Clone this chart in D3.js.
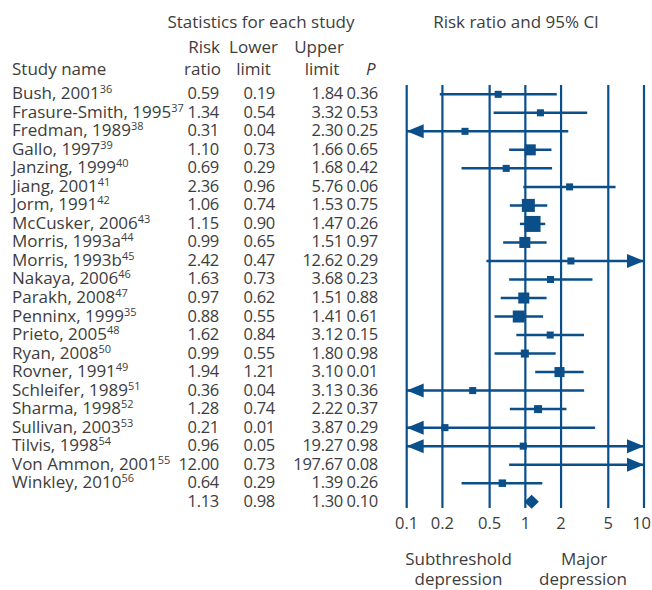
<!DOCTYPE html>
<meta charset="utf-8">
<title>Forest plot</title>
<style>
  body { margin: 0; background: white; }
  svg { font-family: "Open Sans", sans-serif; }
  text { fill: #3d3d3d; }
</style>
<body>
<div id="chart"></div>
<script src="https://d3js.org/d3.v7.min.js"></script>
<script>

// study data
var studies = ["Bush, 2001", "Frasure-Smith, 1995", "Fredman, 1989", "Gallo, 1997", "Janzing, 1999",
  "Jiang, 2001", "Jorm, 1991", "McCusker, 2006", "Morris, 1993a", "Morris, 1993b", "Nakaya, 2006",
  "Parakh, 2008", "Penninx, 1999", "Prieto, 2005", "Ryan, 2008", "Rovner, 1991", "Schleifer, 1989",
  "Sharma, 1998", "Sullivan, 2003", "Tilvis, 1998", "Von Ammon, 2001", "Winkley, 2010"];
var refs = ["36", "37", "38", "39", "40", "41", "42", "43", "44", "45", "46", "47", "35", "48", "50", "49",
  "51", "52", "53", "54", "55", "56"];
var riskRatio = [0.59, 1.34, 0.31, 1.10, 0.69, 2.36, 1.06, 1.15, 0.99, 2.42, 1.63, 0.97, 0.88, 1.62, 0.99,
  1.94, 0.36, 1.28, 0.21, 0.96, 12.00, 0.64];
var lowerLimit = [0.19, 0.54, 0.04, 0.73, 0.29, 0.96, 0.74, 0.90, 0.65, 0.47, 0.73, 0.62, 0.55, 0.84, 0.55,
  1.21, 0.04, 0.74, 0.01, 0.05, 0.73, 0.29];
var upperLimit = [1.84, 3.32, 2.30, 1.66, 1.68, 5.76, 1.53, 1.47, 1.51, 12.62, 3.68, 1.51, 1.41, 3.12, 1.80,
  3.10, 3.13, 2.22, 3.87, 19.27, 197.67, 1.39];
var pValue = [0.36, 0.53, 0.25, 0.65, 0.42, 0.06, 0.75, 0.26, 0.97, 0.29, 0.23, 0.88, 0.61, 0.15, 0.98,
  0.01, 0.36, 0.37, 0.29, 0.98, 0.08, 0.26];
// relative study weights (marker area)
var weights = [3.1, 3.1, 3.1, 7.6, 3.1, 3.1, 10.6, 16, 7.6, 3.1, 3.1, 7.6, 9, 3.1, 4, 6.3, 3.1, 4, 3.1, 3.1,
  3.1, 3.5];
// pooled estimate
var pooled = {rr: 1.13, lower: 0.98, upper: 1.30, p: 0.10};
var ticks = [0.1, 0.2, 0.5, 1, 2, 5, 10];

var width = 652, height = 590;
var blue = "#0a4f8a";
var fs = "16.5px", fsName = "17px";

var svg = d3.select("#chart").append("svg")
  .attr("width", width)
  .attr("height", height);

// scales
var x = d3.scaleLog().domain([0.1, 10]).range([406.7, 644]);
var y = d3.scalePoint().domain(d3.range(studies.length + 1)).range([94.3, 501.7]);
var size = d3.scaleSqrt().domain([0, 16]).range([0, 16]);

var cols = {rr: 219, lo: 275, up: 343, p: 378};

// headers
svg.append("text").attr("x", 261).attr("y", 28).attr("text-anchor", "middle")
  .style("font-size", fsName).text("Statistics for each study");
svg.append("text").attr("x", 516).attr("y", 28).attr("text-anchor", "middle")
  .style("font-size", fsName).text("Risk ratio and 95% CI");
svg.append("text").attr("x", 12).attr("y", 75).style("font-size", fsName).text("Study name");

var head = [
  {t: "Risk", x: cols.rr + 1, y: 53, a: "end"},
  {t: "ratio", x: cols.rr + 2, y: 75, a: "end"},
  {t: "Lower", x: 253.5, y: 53, a: "middle"},
  {t: "limit", x: 253.5, y: 75, a: "middle"},
  {t: "Upper", x: 319, y: 53, a: "middle"},
  {t: "limit", x: 322, y: 75, a: "middle"}
];
svg.selectAll(".head").data(head).enter().append("text")
  .attr("x", function(d) { return d.x; })
  .attr("y", function(d) { return d.y; })
  .attr("text-anchor", function(d) { return d.a; })
  .style("font-size", fsName)
  .text(function(d) { return d.t; });
svg.append("text").attr("x", 366).attr("y", 75).style("font-size", fsName)
  .style("font-style", "italic").text("P");

// table rows
var rows = studies.map(function(s, i) {
  return {name: s, ref: refs[i], rr: riskRatio[i], lo: lowerLimit[i], up: upperLimit[i], p: pValue[i], w: weights[i], i: i};
});
var tbl = svg.append("g");
rows.forEach(function(d) {
  var t = tbl.append("text").attr("x", 12).attr("y", y(d.i) + 5).style("font-size", fsName);
  t.append("tspan").text(d.name);
  t.append("tspan").attr("dy", -6).style("font-size", "11px").text(d.ref);
});
var allRows = rows.concat([{rr: pooled.rr, lo: pooled.lower, up: pooled.upper, p: pooled.p, i: studies.length}]);
[["rr", cols.rr], ["lo", cols.lo], ["up", cols.up], ["p", cols.p]].forEach(function(c) {
  tbl.selectAll(".c" + c[0]).data(allRows).enter().append("text")
    .attr("x", c[1])
    .attr("y", function(d) { return y(d.i) + 5; })
    .attr("text-anchor", "end")
    .style("font-size", fs)
    .style("letter-spacing", "-0.3px")
    .text(function(d) { return d[c[0]].toFixed(2); });
});

// vertical grid lines
svg.selectAll(".vl").data(ticks).enter().append("line")
  .attr("x1", function(d) { return x(d); })
  .attr("x2", function(d) { return x(d); })
  .attr("y1", 85).attr("y2", 508)
  .attr("stroke", blue).attr("stroke-width", 2.2);

// axis labels (keep the last one inside the page)
svg.selectAll(".tl").data(ticks).enter().append("text")
  .attr("y", 529)
  .attr("text-anchor", "middle")
  .style("font-size", "16.5px")
  .text(function(d) { return d; })
  .attr("x", function(d) {
    var half = this.getComputedTextLength() / 2;
    return Math.min(x(d), width - 1 - half);
  });

// confidence intervals
var lo = x.domain()[0], hi = x.domain()[1];
var ci = svg.append("g");
rows.forEach(function(d) {
  var cy = y(d.i);
  var a = Math.max(d.lo, lo), b = Math.min(d.up, hi);
  ci.append("line").attr("x1", x(a)).attr("x2", x(b)).attr("y1", cy).attr("y2", cy)
    .attr("stroke", blue).attr("stroke-width", 2.5);
  if (d.lo < lo) {
    var t = x(lo);
    ci.append("path").attr("d", "M" + t + "," + cy + "L" + (t + 17) + "," + (cy - 7) + "L" + (t + 17) + "," + (cy + 7) + "Z")
      .attr("fill", blue);
  }
  if (d.up > hi) {
    var t2 = x(hi);
    ci.append("path").attr("d", "M" + t2 + "," + cy + "L" + (t2 - 17) + "," + (cy - 7) + "L" + (t2 - 17) + "," + (cy + 7) + "Z")
      .attr("fill", blue);
  }
  if (d.rr >= lo && d.rr <= hi) {
    var s = Math.max(7, size(d.w));
    ci.append("rect").attr("x", x(d.rr) - s / 2).attr("y", cy - s / 2)
      .attr("width", s).attr("height", s).attr("fill", blue);
  }
});

// pooled diamond
var py = y(studies.length);
svg.append("path")
  .attr("d", "M" + x(pooled.lower) + "," + py + "L" + x(pooled.rr) + "," + (py - 7) + "L" + x(pooled.upper) + "," + py + "L" + x(pooled.rr) + "," + (py + 7) + "Z")
  .attr("fill", blue);

// bottom captions
[["Subthreshold", 458.5, 565], ["depression", 458.5, 585], ["Major", 584, 565], ["depression", 583, 585]].forEach(function(c) {
  svg.append("text").attr("x", c[1]).attr("y", c[2]).attr("text-anchor", "middle")
    .style("font-size", fsName).text(c[0]);
});

</script>
</body>
